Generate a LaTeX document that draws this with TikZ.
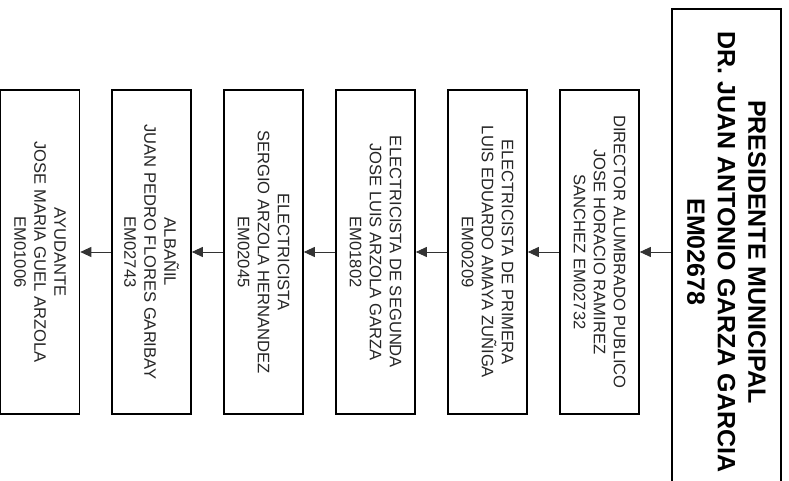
\documentclass[tikz,border=0pt]{standalone}
\usepackage{fontspec}
\setmainfont{Liberation Sans}
\usetikzlibrary{arrows.meta}
\begin{document}
\begin{tikzpicture}[x=1pt,y=-1pt,
  emp/.style={draw=black, line width=1.6pt, rotate=-90, minimum width=324pt, minimum height=79pt, inner sep=0pt, align=center, font=\fontsize{16.6}{20}\selectfont, text=black!85},
  arr/.style={draw=black!80, line width=0.9pt, -{Triangle[length=11pt,width=10pt]}}]
\useasboundingbox (0,0) rectangle (789,481);
\clip (0,0) rectangle (789,481);
\fill[white] (0,0) rectangle (789,481);
\node[emp, line width=1.8pt, minimum width=486pt, minimum height=109pt, font=\bfseries\fontsize{25}{30.5}\selectfont, text=black] (pres) at (726.5,252) {PRESIDENTE MUNICIPAL\\DR. JUAN ANTONIO GARZA GARCIA\\EM02678};
\node[emp] (dir) at (599.5,252) {DIRECTOR ALUMBRADO PUBLICO\\JOSE HORACIO RAMIREZ\\SANCHEZ EM02732};
\node[emp] (e1) at (487.5,252) {ELECTRICISTA DE PRIMERA\\LUIS EDUARDO AMAYA ZUÑIGA\\EM00209};
\node[emp] (e2) at (375.5,252) {ELECTRICISTA DE SEGUNDA\\JOSE LUIS ARZOLA GARZA\\EM01802};
\node[emp] (e3) at (263.5,252) {ELECTRICISTA\\SERGIO ARZOLA HERNANDEZ\\EM02045};
\node[emp] (e4) at (151.5,252) {ALBAÑIL\\JUAN PEDRO FLORES GARIBAY\\EM02743};
\node[emp] (e5) at (40,252) {AYUDANTE\\JOSE MARIA GUEL ARZOLA\\EM01006};
\draw[arr] (dir.north -| pres.south) -- (dir.north);
\draw[arr] (dir.south) -- (e1.north);
\draw[arr] (e1.south) -- (e2.north);
\draw[arr] (e2.south) -- (e3.north);
\draw[arr] (e3.south) -- (e4.north);
\draw[arr] (e4.south) -- (e5.north);
\end{tikzpicture}
\end{document}
